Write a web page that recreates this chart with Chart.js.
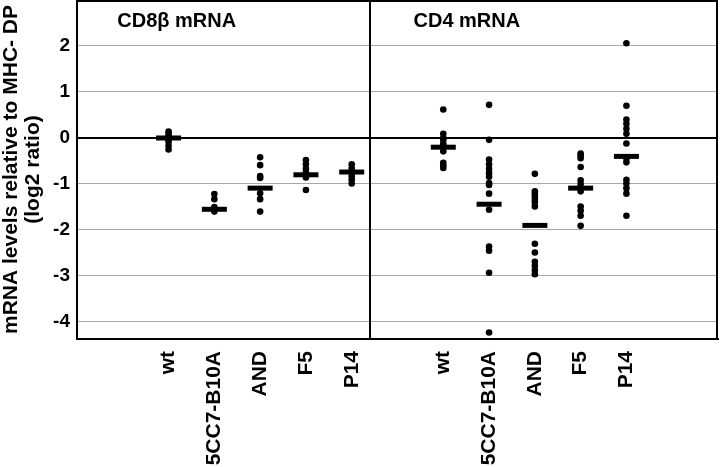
<!DOCTYPE html>
<html>
<head>
<meta charset="utf-8">
<script src="https://cdn.jsdelivr.net/npm/chart.js@4.4.1/dist/chart.umd.min.js"></script>
<style>
  html, body { margin: 0; padding: 0; background: #fff; }
  #wrap { width: 720px; height: 467px; }
</style>
</head>
<body>
<div id="wrap"><canvas id="chart"></canvas></div>
<script>
const strains = ['wt', '5CC7-B10A', 'AND', 'F5', 'P14'];
const panelTitles = ['CD8\u03b2 mRNA', 'CD4 mRNA'];
const yTicks = [2, 1, 0, -1, -2, -3, -4];

// one list of dots per strain
const cd8Values = [
    [0.14, 0.09, 0.04, 0.0, -0.04, -0.08, -0.17, -0.25],
    [-1.22, -1.33, -1.5, -1.6],
    [-0.42, -0.59, -0.83, -0.87, -1.2, -1.33, -1.6],
    [-0.48, -0.57, -0.67, -0.75, -0.86, -1.13],
    [-0.57, -0.66, -0.83, -0.91, -0.99]
];
const cd8Means = [0.0, -1.55, -1.09, -0.80, -0.74];

const cd4Values = [
    [0.62, 0.09, 0.0, -0.04, -0.12, -0.16, -0.29, -0.54, -0.60, -0.65],
    [0.72, -0.04, -0.47, -0.57, -0.67, -0.76, -0.84, -0.98, -1.02, -1.21, -1.56, -2.36, -2.45, -2.93, -4.23],
    [-0.78, -1.16, -1.21, -1.27, -1.34, -1.40, -1.49, -2.30, -2.49, -2.69, -2.78, -2.87, -2.96],
    [-0.34, -0.38, -0.44, -0.63, -0.92, -1.0, -1.16, -1.49, -1.58, -1.69, -1.91],
    [2.06, 0.70, 0.40, 0.31, 0.20, 0.09, -0.12, -0.45, -0.53, -0.91, -0.99, -1.09, -1.21, -1.69]
];
const cd4Means = [-0.20, -1.44, -1.90, -1.09, -0.40];

Chart.defaults.font.family = "'Liberation Sans', Arial, sans-serif";
Chart.defaults.font.weight = 'bold';
Chart.defaults.color = '#000';

// x slot of a strain: two empty slots on the left, a gap of one between panels
function slot(panel, i) {
    return panel * 6 + i + 2;
}

const dots = [];
const means = [];
[cd8Values, cd4Values].forEach((groups, p) => {
    groups.forEach((vals, i) => {
        vals.forEach((v) => dots.push({x: slot(p, i), y: v}));
    });
});
[cd8Means, cd4Means].forEach((m, p) => {
    m.forEach((v, i) => means.push({x: slot(p, i), y: v}));
});
const tickSlots = [];
strains.forEach((s, i) => tickSlots.push(slot(0, i)));
strains.forEach((s, i) => tickSlots.push(slot(1, i)));

function noPadding(scale) {
    scale.paddingTop = 0;
    scale.paddingBottom = 0;
    scale.paddingLeft = 0;
    scale.paddingRight = 0;
}

const frame = {
    id: 'frame',
    beforeDatasetsDraw(chart) {
        const {ctx, chartArea: a, scales: {x}} = chart;
        ctx.save();
        ctx.strokeStyle = '#000';
        ctx.lineWidth = 2;
        ctx.beginPath();
        ctx.moveTo(a.left, a.top + 1);
        ctx.lineTo(a.right - 1, a.top + 1);
        ctx.lineTo(a.right - 1, a.bottom);
        const xd = Math.round(x.getPixelForValue(6.4));
        ctx.moveTo(xd, a.top);
        ctx.lineTo(xd, a.bottom);
        ctx.stroke();

        ctx.font = "bold 20px 'Liberation Sans', Arial, sans-serif";
        ctx.fillStyle = '#000';
        ctx.textBaseline = 'middle';
        ctx.fillText(panelTitles[0], x.getPixelForValue(0.88), a.top + 21);
        ctx.fillText(panelTitles[1], x.getPixelForValue(7.35), a.top + 21);
        ctx.restore();
    }
};

new Chart(document.getElementById('chart'), {
    type: 'scatter',
    data: {
        datasets: [{
            label: 'mean',
            data: means,
            pointStyle: 'line',
            pointRadius: 12.5,
            borderWidth: 5,
            borderColor: '#000',
            backgroundColor: '#000'
        }, {
            label: 'samples',
            data: dots,
            pointRadius: 3.3,
            borderWidth: 0,
            backgroundColor: '#000'
        }]
    },
    options: {
        responsive: true,
        maintainAspectRatio: false,
        animation: false,
        events: [],
        layout: {
            autoPadding: false,
            padding: {top: 0, right: 2, left: 0, bottom: 0}
        },
        scales: {
            x: {
                type: 'linear',
                min: 0,
                max: 14,
                afterBuildTicks: (scale) => {
                    scale.ticks = tickSlots.map((v) => ({value: v}));
                },
                afterFit: (scale) => {
                    scale.height = 128;
                    noPadding(scale);
                },
                grid: {display: false, drawTicks: false},
                border: {display: true, color: '#000', width: 2},
                ticks: {
                    autoSkip: false,
                    minRotation: 90,
                    maxRotation: 90,
                    padding: 12,
                    font: {size: 21},
                    callback: (v) => {
                        const p = v >= 8 ? 1 : 0;
                        return strains[Math.round(v) - 2 - p * 6];
                    }
                }
            },
            y: {
                min: -4.37,
                max: 3.0,
                afterBuildTicks: (scale) => {
                    scale.ticks = yTicks.map((v) => ({value: v}));
                },
                afterFit: (scale) => {
                    scale.width = 77;
                    noPadding(scale);
                },
                grid: {
                    drawTicks: false,
                    color: (c) => (c.tick && c.tick.value === 0) ? '#000' : '#a8a8a8',
                    lineWidth: (c) => (c.tick && c.tick.value === 0) ? 2 : 1
                },
                border: {display: true, color: '#000', width: 2},
                ticks: {
                    padding: 7,
                    font: {size: 19}
                },
                title: {
                    display: true,
                    text: ['mRNA levels relative to MHC- DP', '(log2 ratio)'],
                    font: {size: 21, lineHeight: 1.05},
                    padding: {top: 0, bottom: 0}
                }
            }
        },
        plugins: {
            legend: {display: false},
            tooltip: {enabled: false}
        }
    },
    plugins: [frame]
});
</script>
</body>
</html>
